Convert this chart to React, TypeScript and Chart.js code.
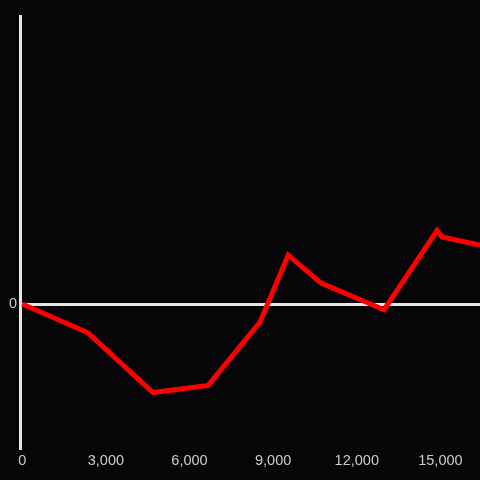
import React, { useEffect, useRef } from "react";
import { Chart, registerables } from "chart.js";

Chart.register(...registerables);

const xValues = [0, 2360, 4690, 6670, 8530, 9540, 10720, 12980, 14880, 15060, 16420];
const yValues = [0, -20, -61.5, -56.5, -12.5, 34, 14.5, -4, 51, 46.5, 41];
const xTicks = [0, 3000, 6000, 9000, 12000, 15000];
const yTicks = [0];

const BG = "#060508";

export default function App() {
  const ref = useRef<HTMLCanvasElement | null>(null);
  useEffect(() => {
    document.body.style.margin = "0";
    document.body.style.background = BG;
    const ctx = ref.current!;
    const chart = new Chart(ctx, {
      type: "line",
      data: {
        datasets: [
          {
            data: xValues.map((x, i) => ({ x, y: yValues[i] })),
            borderColor: "#ff0000",
            borderWidth: 5,
            pointRadius: 0,
            tension: 0,
            fill: false,
          },
        ],
      },
      options: {
        animation: false,
        responsive: false,
        maintainAspectRatio: false,
        layout: { padding: { top: 16, right: 0, left: 0, bottom: 0 } },
        plugins: { legend: { display: false }, tooltip: { enabled: false } },
        scales: {
          x: {
            type: "linear",
            min: -80,
            max: 16420,
            afterBuildTicks: (s: any) => {
              s.ticks = xTicks.map((value) => ({ value }));
            },
            grid: { display: false, drawTicks: false },
            border: { display: false },
            ticks: {
              maxRotation: 0,
              autoSkip: false,
              color: "#cccccc",
              padding: 4,
              font: { size: 14.5 },
              callback: (v: any) => Number(v).toLocaleString("en-US"),
            },
            afterFit: (s: any) => {
              s.height = 32;
              s.paddingLeft = 0;
              s.paddingRight = 0;
            },
          },
          y: {
            type: "linear",
            min: -100,
            max: 200,
            afterBuildTicks: (s: any) => {
              s.ticks = yTicks.map((value) => ({ value }));
            },
            grid: { color: "#e6e6e6", lineWidth: 3, drawTicks: false },
            border: { display: true, color: "#e6e6e6", width: 3 },
            ticks: {
              color: "#cccccc",
              padding: 3,
              font: { size: 14.5 },
            },
            afterFit: (s: any) => {
              s.width = 20;
              s.paddingTop = 0;
              s.paddingBottom = 0;
            },
          },
        },
      },
    });
    return () => chart.destroy();
  }, []);
  return (
    <div style={{ width: 480, height: 480, background: BG }}>
      <canvas ref={ref} width={480} height={480} style={{ display: "block" }} />
    </div>
  );
}
